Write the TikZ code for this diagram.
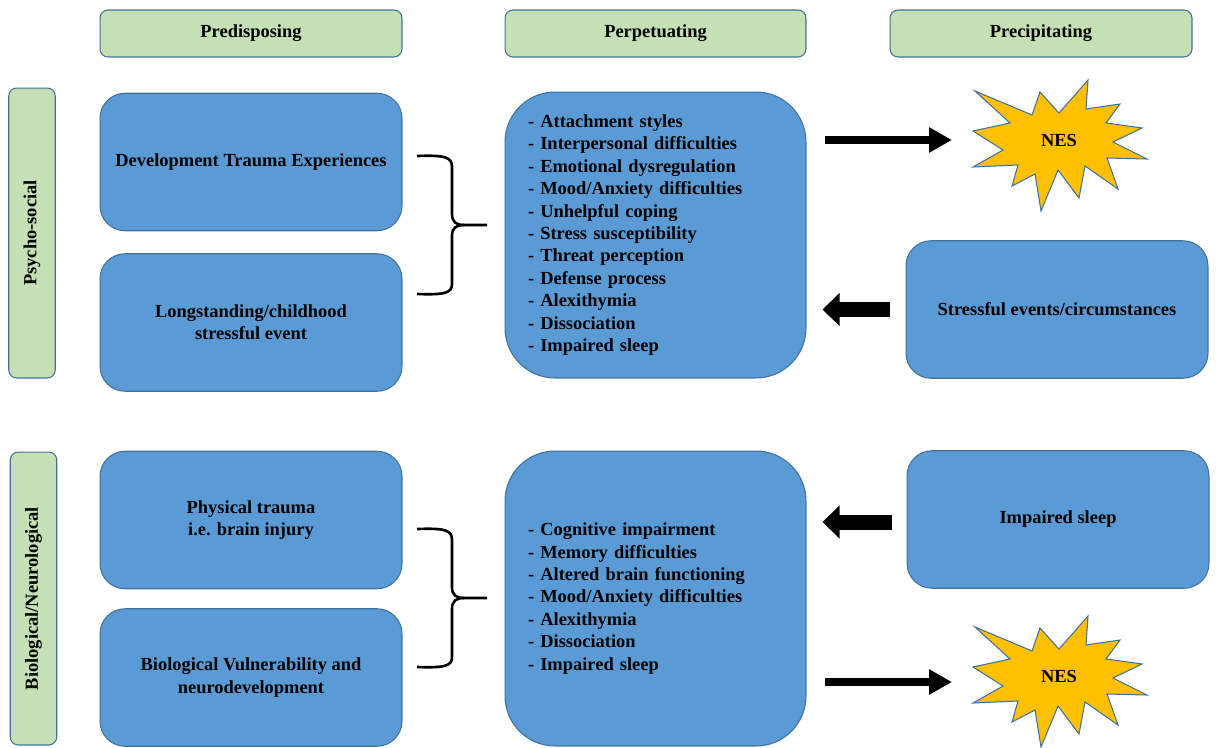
\documentclass[tikz,border=0pt]{standalone}
\usepackage{fontspec}
\setmainfont{Liberation Serif}
\usepackage{tikz}
\usetikzlibrary{positioning,calc,arrows.meta}

\definecolor{boxblue}{HTML}{5B9BD5}
\definecolor{edgeblue}{HTML}{41719C}
\definecolor{hdrgreen}{HTML}{C5E0B4}
\definecolor{nesgold}{HTML}{FFC000}

\tikzset{
  every node/.style={font=\fontsize{10.5}{12.75}\selectfont\bfseries},
  header/.style={draw=edgeblue, fill=hdrgreen, rounded corners=0.16cm, minimum width=6.04cm, minimum height=0.94cm, line width=0.6pt},
  sidebar/.style={header, rotate=90, minimum height=0.93cm},
  factor/.style={draw=edgeblue, fill=boxblue, rounded corners=0.5cm, minimum width=6.04cm, minimum height=2.75cm, align=center, line width=0.6pt},
  listbox/.style={factor, rounded corners=1cm, minimum width=6.02cm, text width=5.1cm, align=left, inner xsep=0.46cm},
  thinarrow/.style={line width=0.16cm, -{Triangle[length=0.46cm,width=0.48cm]}},
  fatarrow/.style={line width=0.3cm, -{Triangle[length=0.34cm,width=0.64cm]}},
  bracket/.style={line width=1.5pt, line join=round},
  burst/.style={draw=edgeblue, fill=nesgold, line width=0.6pt}
}

\begin{document}
\begin{tikzpicture}[x=0.02cm, y=-0.02cm]
    \useasboundingbox (0,0) rectangle (1216,747);

    % column headings
    \node[header] (pre) at (251,33.5) {Predisposing};
    \node[header, minimum width=6.02cm] (per) at (655.5,33.5) {Perpetuating};
    \node[header] (prec) at (1041,33.5) {Precipitating};

    % row labels
    \node[sidebar, minimum width=5.8cm] (psy) at (32,233) {Psycho-social};
    \node[sidebar, minimum width=5.86cm] (bioneuro) at (33.5,598.5) {Biological/Neurological};

    % Psycho-social
    \node[factor] (dev) at (251,162) {Development Trauma Experiences};
    \node[factor] (long) at (251,322.5) {Longstanding/childhood\\stressful event};
    \node[listbox, minimum height=5.72cm] (perp1) at (655.5,235) {- Attachment styles\\- Interpersonal difficulties\\- Emotional dysregulation\\- Mood/Anxiety difficulties\\- Unhelpful coping\\- Stress susceptibility\\- Threat perception\\- Defense process\\- Alexithymia\\- Dissociation\\- Impaired sleep};
    \node[factor] (stress) at (1057,309.5) {Stressful events/circumstances};

    % Biological/Neurological
    \node[factor] (phys) at (251,520) {Physical trauma\\i.e. brain injury};
    \node[factor] (bio) at (251,677.5) {Biological Vulnerability and\\neurodevelopment};
    \node[listbox, minimum height=5.9cm] (perp2) at (655.5,598.5) {- Cognitive impairment\\- Memory difficulties\\- Altered brain functioning\\- Mood/Anxiety difficulties\\- Alexithymia\\- Dissociation\\- Impaired sleep};
    \node[factor] (sleep) at (1058,519.5) {Impaired sleep};

    % NES bursts
    \foreach \dy/\nm in {0/nes1,536/nes2}{
        \begin{scope}[shift={(0,\dy)}]
            \filldraw[burst] (1088,80) -- (1086,109) -- (1120,104) -- (1106,123) -- (1142,128) -- (1113,142)
                -- (1147,159) -- (1107,158) -- (1118,189) -- (1085,166) -- (1079,198) -- (1058,170)
                -- (1041,211) -- (1035,174) -- (1012,186) -- (1018,165) -- (973,167) -- (1003,150)
                -- (973,131) -- (1010,123) -- (975,91) -- (1032,115) -- (1040,92) -- (1059,113) -- cycle;
            \node[inner sep=0] (\nm) at (1059,140) {NES};
        \end{scope}
    }

    % braces
    \foreach \dy in {0,373}{
        \begin{scope}[shift={(0,\dy)}]
            \draw[bracket] (417,156) .. controls (445,155) and (452,157) .. (452,167) -- (452,214)
                .. controls (452,222) and (456,225) .. (464,225) -- (487,225);
            \draw[bracket] (464,225) .. controls (456,225) and (452,228) .. (452,236) -- (452,284)
                .. controls (452,293) and (445,295) .. (417,294);
        \end{scope}
    }

    % arrows
    \draw[thinarrow, shorten <=0.36cm, shorten >=2.14cm] (perp1.east |- nes1.center) -- (nes1.center);
    \draw[thinarrow, shorten <=0.36cm, shorten >=2.14cm] ([yshift=-0.12cm]perp2.east |- nes2.center) -- ([yshift=-0.12cm]nes2.center);
    \draw[fatarrow, shorten <=0.32cm, shorten >=0.32cm] (stress.west) -- (stress.west -| perp1.east);
    \draw[fatarrow, shorten <=0.3cm, shorten >=0.32cm] ([yshift=-0.05cm]sleep.west) -- ([yshift=-0.05cm]sleep.west -| perp2.east);
\end{tikzpicture}
\end{document}
